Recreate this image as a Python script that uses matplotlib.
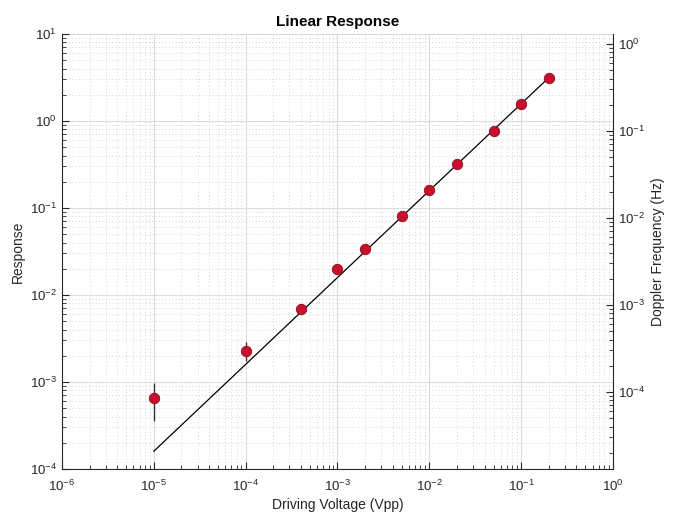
import matplotlib
matplotlib.use('Agg')
import matplotlib.pyplot as plt
import numpy as np

plt.rcParams['font.family'] = ['Liberation Sans', 'DejaVu Sans']
plt.rcParams['mathtext.fontset'] = 'custom'
plt.rcParams['mathtext.rm'] = 'Liberation Sans'
plt.rcParams['mathtext.it'] = 'Liberation Sans'
plt.rcParams['axes.unicode_minus'] = False

# measured points
volt = [1e-5, 1e-4, 4e-4, 1e-3, 2e-3, 5e-3, 1e-2, 2e-2, 5e-2, 1e-1, 2e-1]
resp = [6.6e-4, 2.3e-3, 6.9e-3, 0.0197, 0.0335, 0.080, 0.163, 0.32, 0.77, 1.56, 3.1]
err_lo = [3.0e-4, 5.7e-4, 9e-4, 1.2e-3, 1.5e-3, 2.5e-3, 4e-3, 6e-3, 1.2e-2, 2e-2, 3e-2]
err_hi = [3.2e-4, 6.0e-4, 9e-4, 1.2e-3, 1.5e-3, 2.5e-3, 4e-3, 6e-3, 1.2e-2, 2e-2, 3e-2]

# linear fit
fit_x = [1e-5, 2e-1]
fit_y = [1.6e-4, 3.15]

doppler_scale = 0.13  # response -> Doppler frequency (Hz)

fig = plt.figure(figsize=(6.82, 5.16), dpi=100)
ax = fig.add_axes([0.0909, 0.0911, 0.8079, 0.8430])

ax.plot(fit_x, fit_y, '-', color='black', linewidth=0.9, zorder=3)
ax.errorbar(volt, resp, yerr=[err_lo, err_hi], fmt='o', color='#c8102e',
            markeredgecolor='#8a0c22', markeredgewidth=0.6, markersize=7.5,
            ecolor='#333333', elinewidth=1.0, capsize=0, zorder=4)

ax.set_xscale('log')
ax.set_yscale('log')
ax.set_xlim(1e-6, 1)
ax.set_ylim(1e-4, 10)

ax.grid(True, which='major', color='#dcdcdc', linewidth=0.8, linestyle='-')
ax.grid(True, which='minor', color='#c8c8c8', linewidth=0.6, linestyle=(0, (1, 3)))
ax.set_axisbelow(True)
ax.tick_params(which='both', direction='in', labelsize=9.5, colors='#262626', top=False)
ax.tick_params(which='major', length=5)
ax.tick_params(which='minor', length=3)
ax.tick_params(axis='x', pad=7)
for s in ['top', 'right']:
    ax.spines[s].set_visible(False)
for s in ['left', 'bottom']:
    ax.spines[s].set_color('#262626')

ax.set_xlabel('Driving Voltage (Vpp)', fontsize=10, color='#262626', labelpad=3)
ax.set_ylabel('Response', fontsize=10, color='#262626')
ax.set_title('Linear Response', fontsize=11, fontweight='bold')

ax2 = ax.twinx()
ax2.set_yscale('log')
ax2.set_ylim(1e-4 * doppler_scale, 10 * doppler_scale)
ax2.tick_params(which='both', direction='in', labelsize=9.5, colors='#262626')
ax2.tick_params(which='major', length=5)
ax2.tick_params(which='minor', length=3)
for s in ['top', 'left', 'bottom']:
    ax2.spines[s].set_visible(False)
ax2.spines['right'].set_color('#262626')
ax2.set_ylabel('Doppler Frequency (Hz)', fontsize=10, color='#262626')

fig.savefig('out.png', dpi=100)
